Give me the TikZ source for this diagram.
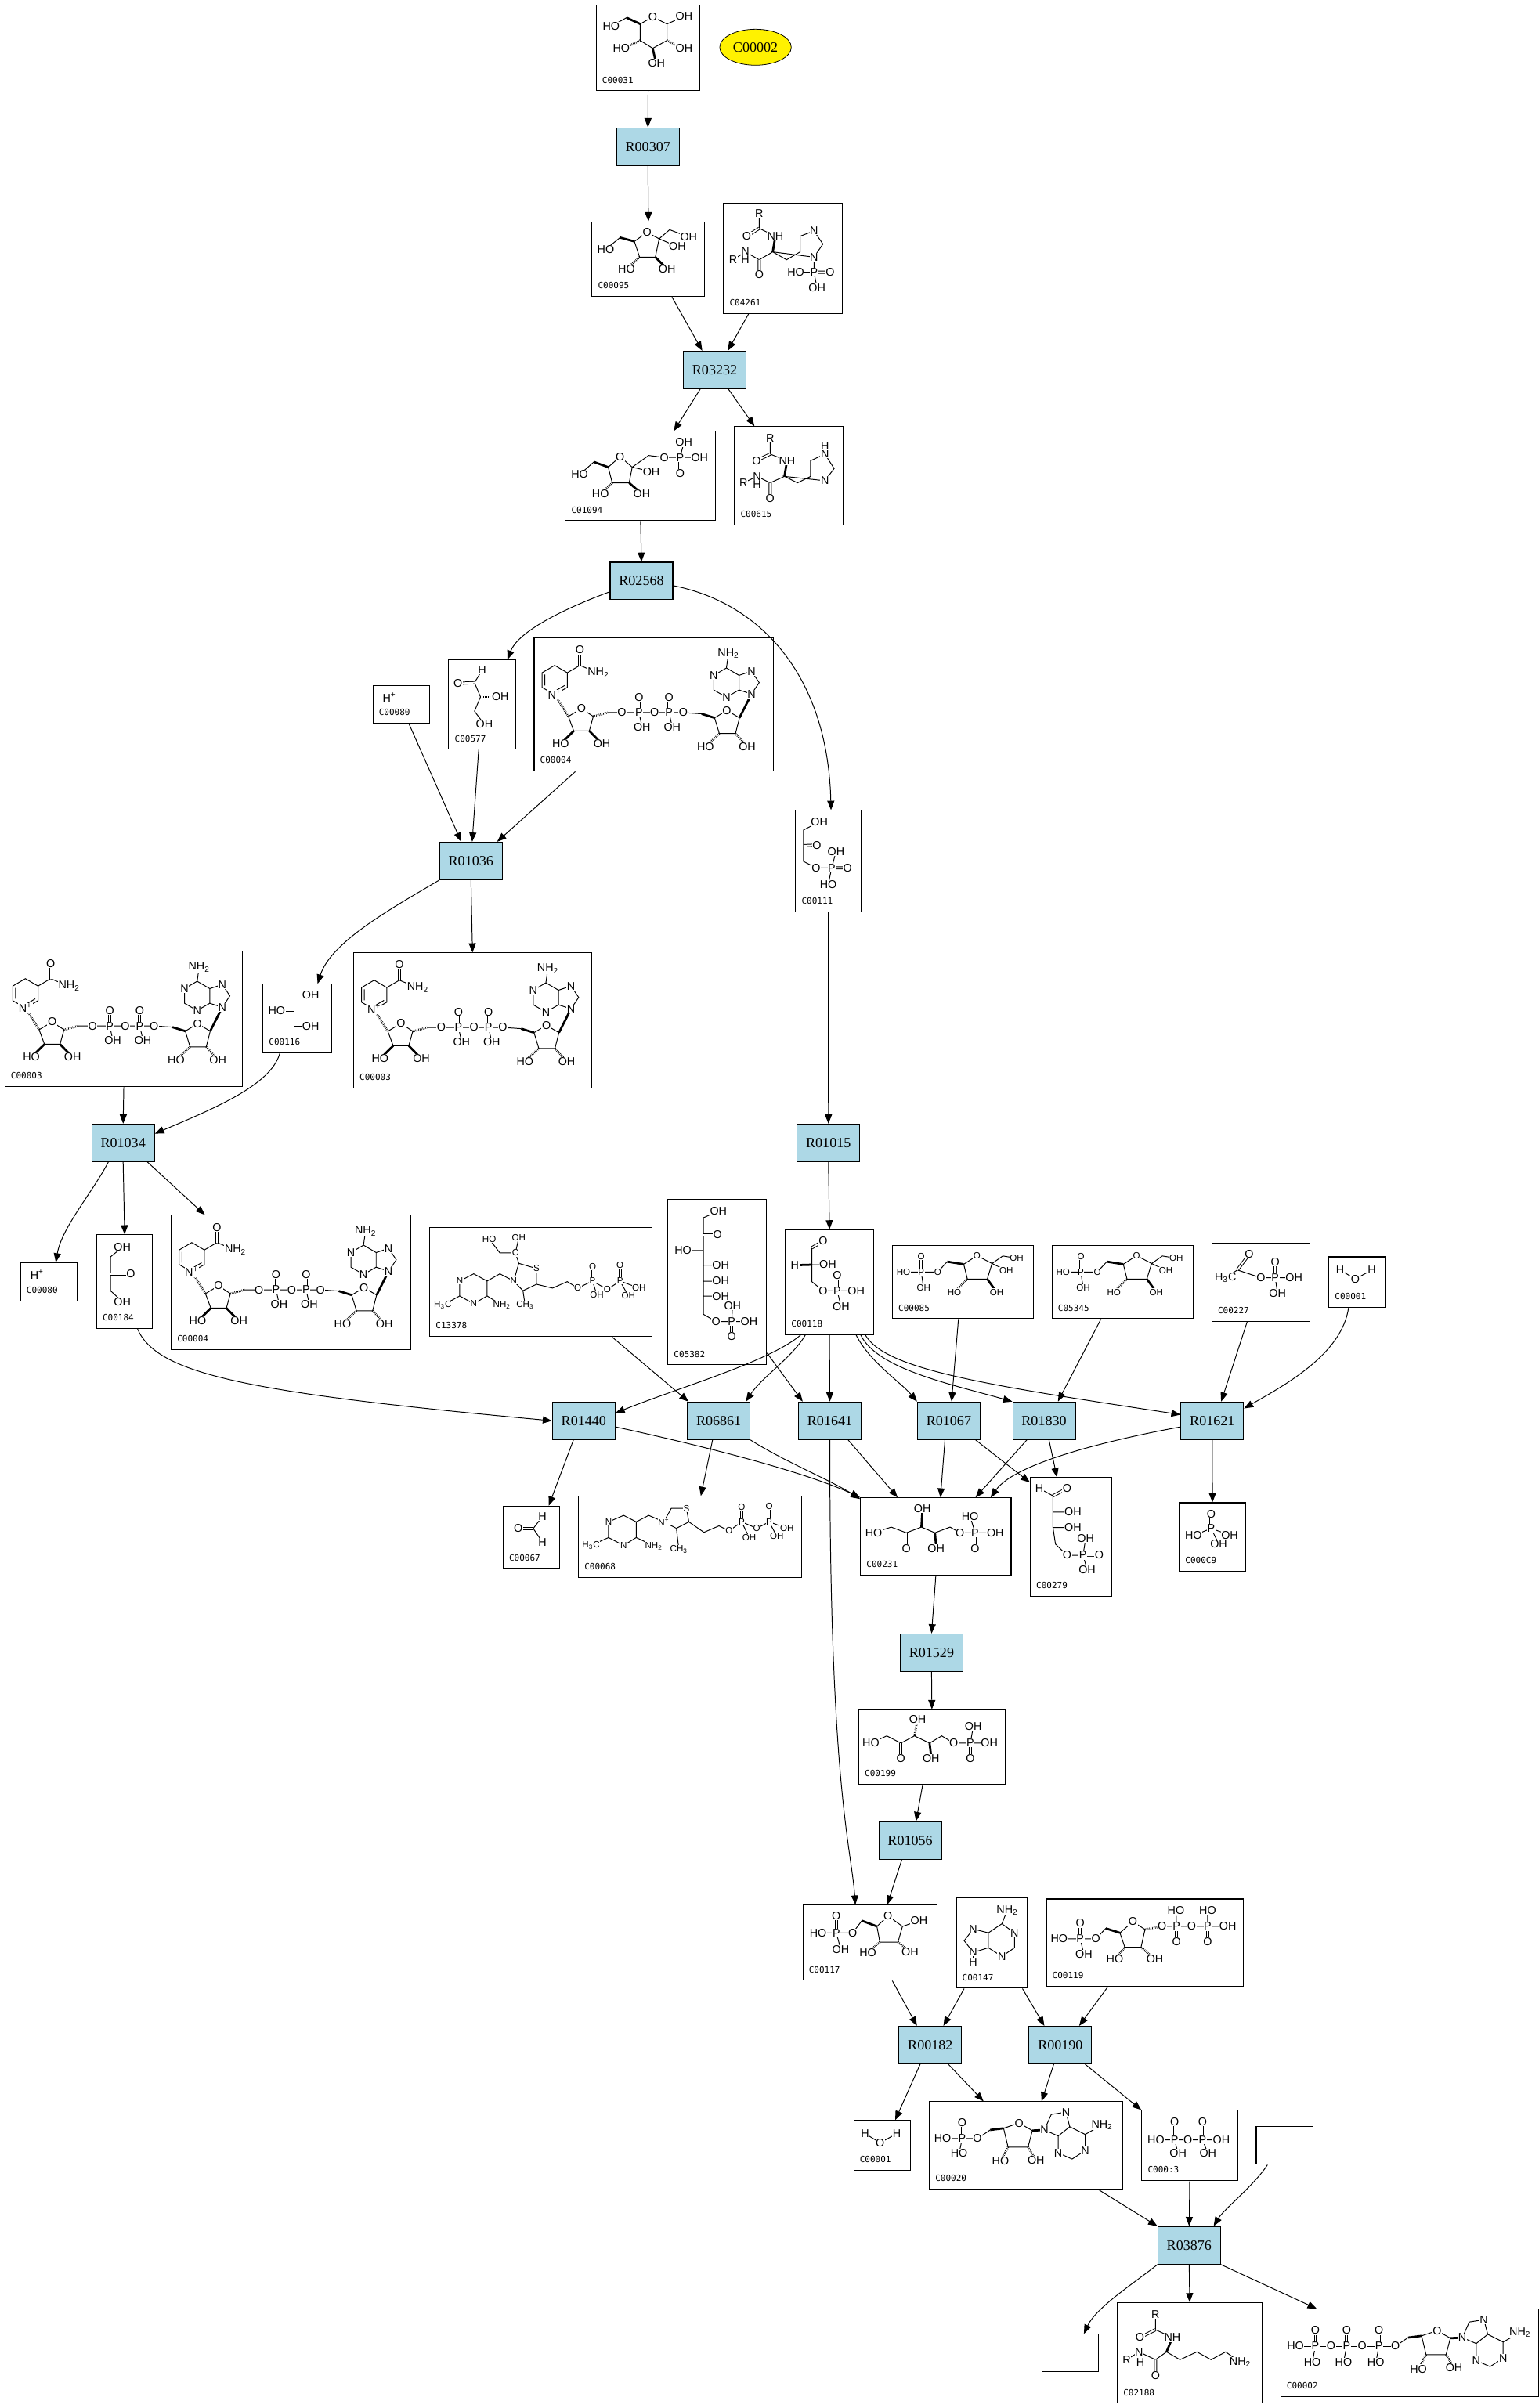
\documentclass[tikz,border=0pt]{standalone}
\usepackage{fontspec}
\usetikzlibrary{arrows.meta, shapes.geometric}
\newfontfamily\rxnfont{Liberation Serif}
\newfontfamily\atomfont{Liberation Sans}
\newfontfamily\idfont{DejaVu Sans Mono}
\definecolor{rxnblue}{HTML}{ADD8E6}

\tikzset{
  rxn/.style={draw, line width=0.55pt, fill=rxnblue, minimum width=40.7pt, minimum height=24.4pt,
    inner sep=0pt, font=\rxnfont\fontsize{9.2}{10}\selectfont},
  cpd/.style={draw, line width=0.55pt, inner sep=0pt, anchor=north west},
  cid/.style={font=\idfont\fontsize{5.6}{6}\selectfont, inner sep=0pt, anchor=base west},
  atom/.style={font=\atomfont\fontsize{7.3}{8}\selectfont, inner sep=0.3pt, fill=white},
  satom/.style={atom, font=\atomfont\fontsize{5.9}{6}\selectfont},
  bond/.style={line width=0.5pt},
  dbl/.style={bond, double, double distance=1pt},
  wedge/.style={line width=1.4pt},
  hash/.style={line width=1.4pt, dash pattern=on 0.35pt off 0.6pt},
  flow/.style={line width=0.5pt, -{Triangle[length=6pt, width=4.6pt]}},
  % NAD+ / NADH
  nad/.pic={
    \draw[bond] (13.6,18) -- (21.8,22.8) -- (21.8,32.3) -- (13.6,37) -- (5.4,32.3) -- (5.4,22.8) -- cycle
      (7.2,24) -- (7.2,31.1) (20,31.1) -- (15,34)
      (21.8,22.8) -- (30,18) -- (41.5,22.8)
      (22.5,51.2) -- (31,46.1) -- (38.7,51.2) -- (36.1,60.6) -- (26,60.6) -- cycle
      (48,48.7) -- (97.2,48.7) -- (109.1,49.5)
      (68.4,48.7) -- (70.4,58) (87.9,48.7) -- (90,58)
      (117.5,52.1) -- (125.5,47.3) -- (133.7,52.1) -- (131.1,62.3) -- (120.6,62.3) -- cycle
      (125.2,19.7) -- (117,24.5) -- (117,34) -- (125.2,38.7) -- (133.4,34) -- (133.4,24.5) -- cycle
      (133.4,24.5) -- (141.5,21.8) -- (146.5,29.2) -- (141.5,36.6) -- (133.4,34)
      (125.2,19.7) -- (126.5,10.5);
    \draw[dbl] (30,18) -- (30,8) (68.4,48.7) -- (68.4,38.8) (87.9,48.7) -- (87.9,38.8);
    \draw[hash] (13.6,37) -- (22.5,51.2) (38.7,51.2) -- (48,48.7) (120.6,62.3) -- (111.6,70.7) (131.1,62.3) -- (138.7,70.7);
    \draw[wedge] (26,60.6) -- (17.5,69) (36.1,60.6) -- (44.3,69) (109.1,49.5) -- (117.5,52.1) (133.7,52.1) -- (141.5,36.6);
    \foreach \x/\y/\t in {13.6/37/N\textsuperscript{+}, 30/8/O, 42/22.8/NH\textsubscript{2}, 31/46.1/O,
        17.5/69/HO, 44.3/69/OH, 57.3/48.7/O, 68.4/48.7/P, 68.4/38.8/O, 70.4/58/OH, 78.5/48.7/O,
        87.9/48.7/P, 87.9/38.8/O, 90/58/OH, 97.2/48.7/O, 125.5/47.3/O, 111.6/70.7/HO, 138.7/70.7/OH,
        117/24.5/N, 125.2/38.7/N, 141.5/21.8/N, 141.5/36.6/N, 126.5/10.5/NH\textsubscript{2}}
      \node[atom] at (\x,\y) {\t};
  },
  % fructose 6-phosphate
  hexp/.pic={
    \draw[bond] (7.4,17.4) -- (29.7,17.4) -- (35.9,10.7) (19,17.4) -- (20.5,27.6)
      (46.6,12.4) -- (55.2,6.8) -- (65,11.9) -- (61.9,22) -- (49,22) -- cycle
      (65,11.9) -- (72,7) -- (81,8.5) (65,11.9) -- (74.2,16.4);
    \draw[dbl] (19,17.4) -- (19,7.3);
    \draw[wedge] (35.9,10.7) -- (46.6,12.4) (61.9,22) -- (68,30.5);
    \draw[hash] (49,22) -- (40.5,30.5);
    \foreach \x/\y/\t in {7.4/17.4/HO, 19/17.4/P, 19/7.3/O, 20.5/27.6/OH, 29.7/17.4/O, 55.2/6.8/O,
        81/8.5/OH, 74.2/16.4/OH, 40.5/30.5/HO, 68/30.5/OH}
      \node[satom] at (\x,\y) {\t};
  },
  % adenosine from the 5'-O
  adenosine/.pic={
    \draw[bond] (0,0) -- (8.3,-5.6)
      (17,-6.7) -- (27.1,-10.1) -- (35.7,-5.2) -- (32.9,5.5) -- (19.9,5.5) -- cycle
      (43.5,-5.6) -- (48,-15.7) -- (57.5,-17.2) -- (60,-7.7) -- (52.5,-1.7) -- cycle
      (52.5,-1.7) -- (52.5,9.3) -- (61.5,13.3) -- (70,7.8) -- (70,-2.7) -- (60,-7.7)
      (70,-2.7) -- (81,-8.9);
    \draw[wedge] (8.3,-5.6) -- (17,-6.7) (35.7,-5.2) -- (43.5,-5.6);
    \draw[hash] (19.9,5.5) -- (15,14.8) (32.9,5.5) -- (38.1,14);
    \foreach \x/\y/\t in {0/0/O, 27.1/-10.1/O, 15/14.8/HO, 38.1/14/OH, 43.5/-5.6/N, 57.5/-17.2/N,
        52.5/9.3/N, 70/7.8/N, 81/-8.9/NH\textsubscript{2}}
      \node[atom] at (\x,\y) {\t};
  }
}

\newcommand{\cpdbox}[6]{%
  \node[cpd, minimum width=#4pt, minimum height=#5pt] (#1) at (#2,#3) {};
  \node[cid] at ([xshift=4pt,yshift=5.3pt]#1.south west) {#6};}

\begin{document}
\begin{tikzpicture}[x=1pt, y=-1pt]
  \useasboundingbox (0,0) rectangle (1000,1564.9);
  \fill[white] (0,0) rectangle (1000,1564.9);

  % Compounds
  \cpdbox{c00031}{387.1}{3.1}{67.5}{55.6}{C00031}
  \node[draw, ellipse, fill=yellow, minimum width=46.5pt, minimum height=23.4pt, inner sep=0pt,
    font=\rxnfont\fontsize{9.2}{10}\selectfont] (c00002) at (490.9,30.7) {C00002};
  \cpdbox{c00095}{384.4}{143.9}{73.3}{48.6}{C00095}
  \cpdbox{c04261}{469.9}{132}{77.3}{71.6}{C04261}
  \cpdbox{c01094}{367.1}{280.1}{97.7}{58}{C01094}
  \cpdbox{c00615}{477}{277}{70.7}{64}{C00615}
  \cpdbox{c00080a}{242}{445.4}{36.8}{24.3}{C00080}
  \cpdbox{c00577}{291.3}{428.7}{43.5}{58}{C00577}
  \cpdbox{c00004a}{346.8}{414.4}{155.5}{86.5}{C00004}
  \cpdbox{c00111}{516.7}{526.4}{42.4}{66}{C00111}
  \cpdbox{c00003a}{2.9}{618}{154.5}{88}{C00003}
  \cpdbox{c00116}{170.6}{639.3}{44.8}{44.8}{C00116}
  \cpdbox{c00003b}{229.5}{619}{154.5}{88}{C00003}
  \cpdbox{c00080b}{13.1}{820.4}{36.8}{24.7}{C00080}
  \cpdbox{c00184}{62.5}{802.2}{36.4}{60.9}{C00184}
  \cpdbox{c00004b}{111}{789.5}{155.7}{87.2}{C00004}
  \cpdbox{c13378}{279}{797.5}{144.4}{70.8}{C13378}
  \cpdbox{c05382}{433.7}{779.1}{64.1}{107.6}{C05382}
  \cpdbox{c00118}{510}{799}{57.4}{68}{C00118}
  \cpdbox{c00085}{579.6}{809.2}{91.4}{47.5}{C00085}
  \cpdbox{c05345}{683.3}{809.2}{91.6}{47.5}{C05345}
  \cpdbox{c00227}{787.2}{807.6}{63.8}{50.8}{C00227}
  \cpdbox{c00001a}{863.2}{816.5}{36.8}{32.7}{C00001}
  \cpdbox{c00067}{326.6}{978.5}{36.6}{40.5}{C00067}
  \cpdbox{c00068}{375.6}{972.2}{144.8}{52.9}{C00068}
  \cpdbox{c00231}{558.9}{973.2}{97.8}{50.2}{C00231}
  \cpdbox{c00279}{669.2}{960}{53.1}{77.2}{C00279}
  \cpdbox{c00009}{766}{976.3}{43.1}{44.7}{C000C9}
  \cpdbox{c00199}{557.7}{1110.8}{95.1}{48.6}{C00199}
  \cpdbox{c00117}{521.4}{1237.8}{87.3}{48.9}{C00117}
  \cpdbox{c00147}{621.1}{1233.2}{46}{58.6}{C00147}
  \cpdbox{c00119}{679.6}{1233.8}{128.2}{56.9}{C00119}
  \cpdbox{c00001b}{554.5}{1377.8}{36.7}{32.4}{C00001}
  \cpdbox{c00020}{603.6}{1365.6}{125.6}{56.9}{C00020}
  \cpdbox{c00013}{741.6}{1371.2}{62.3}{45.7}{C000:3}
  \node[cpd, minimum width=37pt, minimum height=24.5pt] (cnone1) at (816,1381.8) {};
  \node[cpd, minimum width=37pt, minimum height=24.4pt] (cnone2) at (676.6,1516.7) {};
  \cpdbox{c02188}{725.7}{1496.2}{94.1}{65.3}{C02188}
  \cpdbox{c00002b}{831.9}{1500.4}{167.6}{56.9}{C00002}

  % Reactions
  \node[rxn] (r00307) at (421,95.3) {R00307};
  \node[rxn] (r03232) at (464.4,240.4) {R03232};
  \node[rxn] (r02568) at (416.8,377.6) {R02568};
  \node[rxn] (r01036) at (306,559.5) {R01036};
  \node[rxn] (r01034) at (80,742.7) {R01034};
  \node[rxn] (r01015) at (538.3,742.7) {R01015};
  \node[rxn] (r01440) at (379.3,923.3) {R01440};
  \node[rxn] (r06861) at (467,923.3) {R06861};
  \node[rxn] (r01641) at (539.2,923.3) {R01641};
  \node[rxn] (r01067) at (616.5,923.3) {R01067};
  \node[rxn] (r01830) at (678.4,923.3) {R01830};
  \node[rxn] (r01621) at (787.7,923.3) {R01621};
  \node[rxn] (r01529) at (605.3,1074) {R01529};
  \node[rxn] (r01056) at (591.4,1196) {R01056};
  \node[rxn] (r00182) at (604.5,1329) {R00182};
  \node[rxn] (r00190) at (689,1329) {R00190};
  \node[rxn] (r03876) at (772.7,1459.2) {R03876};

  % Structures
  \begin{scope}[shift={(c00031.north west)}]
    \draw[bond] (28.9,12.5) -- (37,7.9) -- (46.3,12.5) -- (46.3,23.2) -- (37,28.3) -- (28.9,23.2) -- cycle
      (20,8.4) -- (10,14) (46.3,12.5) -- (57.4,7.6);
    \draw[wedge] (28.9,12.5) -- (20,8.4) (37,28.3) -- (38.5,35);
    \draw[hash] (46.3,23.2) -- (55,27.5) (28.9,23.2) -- (20,27.5);
    \foreach \x/\y/\t in {37/7.9/O, 10/14/HO, 57.4/7.6/OH, 57.4/28/OH, 16.6/28/HO, 39.5/38/OH}
      \node[atom] at (\x,\y) {\t};
  \end{scope}
  \begin{scope}[shift={(c00095.north west)}]
    \draw[bond] (27.8,13) -- (36,7.1) -- (43.9,11.3) -- (41.4,23.2) -- (31.2,23.2) -- cycle
      (18.5,10.5) -- (9.2,18.1) (43.9,11.3) -- (50.7,5.4) -- (63.1,10.1) (43.9,11.3) -- (55.8,16.4);
    \draw[wedge] (27.8,13) -- (18.5,10.5) (41.4,23.2) -- (49,30.8);
    \draw[hash] (31.2,23.2) -- (22.7,30.8);
    \foreach \x/\y/\t in {36/7.1/O, 9.2/18.1/HO, 63.1/10.1/OH, 55.8/16.4/OH, 22.7/30.8/HO, 49/30.8/OH}
      \node[atom] at (\x,\y) {\t};
  \end{scope}
  \begin{scope}[shift={(c04261.north west)}]
    \draw[bond] (23.4,6.8) -- (23.4,16.4) -- (33.9,21.5) (32.2,31.7) -- (23.4,36.8) -- (14.4,31.7) -- (6.5,36.8)
      (32.2,31.7) -- (41.2,36.8) -- (50,31.7) -- (50,21.5) -- (59,18.1) -- (64.8,26.6) -- (59,35.1) -- cycle
      (59,35.1) -- (59,44.9) -- (47.2,44.9) (59,44.9) -- (61,55.1);
    \draw[dbl] (23.4,16.4) -- (15.3,21.5) (23.4,36.8) -- (23.4,46.5) (59,44.9) -- (69.5,44.9);
    \draw[wedge] (33.9,21.5) -- (32.2,31.7);
    \foreach \x/\y/\t in {23.4/6.8/R, 15.3/21.5/O, 33.9/21.5/NH, 23.4/46.5/O, 14.4/31.2/N, 14.4/36.8/H,
        6.5/36.8/R, 59/18.1/N, 59/35.1/N, 59/44.9/P, 47.2/44.9/HO, 69.5/44.9/O, 61/55.1/OH}
      \node[atom] at (\x,\y) {\t};
  \end{scope}
  \begin{scope}[shift={(c01094.north west)}]
    \draw[bond] (28.1,23.5) -- (35.8,16.7) -- (43.7,23.5) -- (41.7,33.7) -- (30.7,33.7) -- cycle
      (18.8,20.1) -- (9.5,28.3) (43.7,23.5) -- (54.4,15.9) -- (64.6,17.2) -- (87.5,17.2)
      (74.8,17.2) -- (77.3,7.4) (43.7,23.5) -- (56.1,26.4);
    \draw[dbl] (74.8,17.2) -- (74.8,27.4);
    \draw[wedge] (28.1,23.5) -- (18.8,20.1) (41.7,33.7) -- (49.9,40.8);
    \draw[hash] (30.7,33.7) -- (23.1,40.8);
    \foreach \x/\y/\t in {35.8/16.7/O, 9.5/28.3/HO, 64.6/17.2/O, 74.8/17.2/P, 77.3/7.4/OH, 87.5/17.2/OH,
        74.8/27.4/O, 56.1/26.4/OH, 23.1/40.8/HO, 49.9/40.8/OH}
      \node[atom] at (\x,\y) {\t};
  \end{scope}
  \begin{scope}[shift={(c00615.north west)}]
    \draw[bond] (23.4,7.6) -- (23.4,18.1) -- (34.4,22.4) (32.7,32.6) -- (23.4,36.8) -- (14.9,32.6) -- (6.1,36.8)
      (32.7,32.6) -- (41.2,36.8) -- (49.7,32.6) -- (49.7,22.4) -- (59,18.1) -- (65,27.5) -- (59,35.4) -- cycle;
    \draw[dbl] (23.4,18.1) -- (14.6,22.4) (23.4,36.8) -- (23.4,47);
    \draw[wedge] (34.4,22.4) -- (32.7,32.6);
    \foreach \x/\y/\t in {23.4/7.6/R, 14.6/22.4/O, 34.4/22.4/NH, 23.4/47/O, 14.9/32.6/N, 14.9/37.6/H,
        6.1/36.8/R, 59/18.1/N, 59/13/H, 59/35.4/N}
      \node[atom] at (\x,\y) {\t};
  \end{scope}
  \node[atom] at ([xshift=11pt,yshift=-8pt]c00080a.north west) {H\textsuperscript{+}};
  \node[atom] at ([xshift=11pt,yshift=-8pt]c00080b.north west) {H\textsuperscript{+}};
  \begin{scope}[shift={(c00577.north west)}]
    \draw[bond] (21.9,6.9) -- (17,14.9) -- (20.9,24.2) -- (17,33.5) -- (23.4,42);
    \draw[dbl] (17,14.9) -- (6.2,15.4);
    \draw[hash] (20.9,24.2) -- (33.8,24.2);
    \foreach \x/\y/\t in {21.9/6.9/H, 6.2/15.4/O, 33.8/24.2/OH, 23.4/42/OH}
      \node[atom] at (\x,\y) {\t};
  \end{scope}
  \pic at (c00004a.north west) {nad};
  \pic at (c00003a.north west) {nad};
  \pic at (c00003b.north west) {nad};
  \pic at (c00004b.north west) {nad};
  \begin{scope}[shift={(c00111.north west)}]
    \draw[bond] (15.7,7.6) -- (5.4,13) -- (5.4,33.4) -- (13.6,37.6) -- (23.7,37.6) -- (26.5,27.1)
      (23.7,37.6) -- (21.5,48.3);
    \draw[dbl] (5.4,23.2) -- (14,22.8) (23.7,37.6) -- (34,37.6);
    \foreach \x/\y/\t in {15.7/7.6/OH, 14/22.8/O, 13.6/37.6/O, 23.7/37.6/P, 26.5/27.1/OH, 34/37.6/O, 21.5/48.3/HO}
      \node[atom] at (\x,\y) {\t};
  \end{scope}
  \begin{scope}[shift={(c00116.north west)}]
    \draw[bond] (20.5,7.5) -- (31.3,7.5) (9.2,17.7) -- (21,17.7) (20.5,27.4) -- (31.3,27.4);
    \foreach \x/\y/\t in {31.3/7.5/OH, 9.2/17.7/HO, 31.3/27.4/OH}
      \node[atom] at (\x,\y) {\t};
  \end{scope}
  \begin{scope}[shift={(c00184.north west)}]
    \draw[bond] (17,8.3) -- (9.3,14.6) -- (9.3,36.6) -- (17,43.7);
    \draw[dbl] (9.3,25.6) -- (22.5,25.6);
    \foreach \x/\y/\t in {17/8.3/OH, 22.5/25.6/O, 17/43.7/OH}
      \node[atom] at (\x,\y) {\t};
  \end{scope}
  \begin{scope}[shift={(c13378.north west)}]
    \draw[bond] (38.9,7.7) -- (45.8,16.7) -- (55.9,16.7) -- (58.1,6.9) (55.9,16.7) -- (58.1,23.5)
      (58.1,23.5) -- (69.6,26.9) -- (69.6,37.1) -- (60.8,41.3) -- (54.8,35) -- cycle
      (54.8,35) -- (45.8,30.3) -- (37.5,35)
      (37.5,35) -- (37.5,44.7) -- (28.8,49.8) -- (19.7,44.7) -- (19.7,35) -- (28.8,30.3) -- cycle
      (19.7,44.7) -- (8.7,50.7) (37.5,44.7) -- (47.1,50.7) (60.8,41.3) -- (62.2,50.7)
      (69.6,37.1) -- (80,39.6) -- (89.6,35.4) -- (96.4,39.6) -- (106,35) -- (115.6,40.5) -- (123.9,35) -- (136.2,39.6)
      (106,35) -- (108.8,43.9) (123.9,35) -- (129.3,44.7);
    \draw[dbl] (106,35) -- (106,25.5) (123.9,35) -- (123.9,24.4);
    \foreach \x/\y/\t in {38.9/7.7/HO, 58.1/6.9/OH, 55.9/16.7/C, 69.6/26.9/S, 54.8/35/N, 19.7/35/N, 28.8/49.8/N,
        8.7/50.7/H\textsubscript{3}C, 47.1/50.7/NH\textsubscript{2}, 62.2/50.7/CH\textsubscript{3}, 96.4/39.6/O, 106/35/P,
        106/25.5/O, 108.8/43.9/OH, 115.6/40.5/O, 123.9/35/P, 123.9/24.4/O, 136.2/39.6/OH, 129.3/44.7/OH}
      \node[satom] at (\x,\y) {\t};
  \end{scope}
  \begin{scope}[shift={(c05382.north west)}]
    \draw[bond] (33.1,8) -- (23.3,12.3) -- (23.3,75) -- (31.6,79.8) -- (53,79.8) (10.1,33.5) -- (23.3,33.5)
      (23.3,43.1) -- (34.6,43.1) (23.3,53.5) -- (34.6,53.5) (23.3,63.2) -- (34.6,63.2) (41.7,79.8) -- (42.3,69.6);
    \draw[dbl] (23.3,23.3) -- (32.5,23.3) (41.7,79.8) -- (41.7,89.5);
    \foreach \x/\y/\t in {33.1/8/OH, 32.5/23.3/O, 10.1/33.5/HO, 34.6/43.1/OH, 34.6/53.5/OH, 34.6/63.2/OH,
        31.6/79.8/O, 41.7/79.8/P, 42.3/69.6/OH, 53/79.8/OH, 41.7/89.5/O}
      \node[atom] at (\x,\y) {\t};
  \end{scope}
  \begin{scope}[shift={(c00118.north west)}]
    \draw[bond] (17.5,11.9) -- (17.5,33.9) -- (24.8,39.9) -- (46.3,39.9) (17.5,22.9) -- (27.9,22.9)
      (34,39.9) -- (36.5,50);
    \draw[dbl] (24.8,7.6) -- (17.5,11.9) (34,39.9) -- (34,29.7);
    \draw[wedge] (17.5,22.9) -- (6.4,23.2);
    \foreach \x/\y/\t in {24.8/7.6/O, 6.4/23.2/H, 27.9/22.9/OH, 24.8/39.9/O, 34/39.9/P, 34/29.7/O,
        46.3/39.9/OH, 36.5/50/OH}
      \node[atom] at (\x,\y) {\t};
  \end{scope}
  \pic at (c00085.north west) {hexp};
  \pic at (c05345.north west) {hexp};
  \begin{scope}[shift={(c00227.north west)}]
    \draw[bond] (9.1,22.8) -- (16.8,17.7) -- (32.1,22.8) -- (53.6,22.8) (41.4,22.8) -- (42.9,33);
    \draw[dbl] (16.8,17.7) -- (24.5,7.5) (41.4,22.8) -- (41.4,12.3);
    \foreach \x/\y/\t in {9.1/22.8/H\textsubscript{3}C, 24.5/7.5/O, 32.1/22.8/O, 41.4/22.8/P, 41.4/12.3/O,
        53.6/22.8/OH, 42.9/33/OH}
      \node[atom] at (\x,\y) {\t};
  \end{scope}
  \foreach \w in {c00001a, c00001b}
    \draw[bond, shift={(\w.north west)}] (7.6,8.8) -- (17.4,14.7) -- (28.2,8.8)
      node[atom] at (7.6,8.8) {H} node[atom] at (17.4,14.7) {O} node[atom] at (28.2,8.8) {H};
  \begin{scope}[shift={(c00067.north west)}]
    \draw[bond] (25.8,7.1) -- (19.9,14.8) -- (25.8,23.6);
    \draw[dbl] (10.1,14.8) -- (19.9,14.8);
    \foreach \x/\y/\t in {10.1/14.8/O, 25.8/7.1/H, 25.8/23.6/H}
      \node[atom] at (\x,\y) {\t};
  \end{scope}
  \begin{scope}[shift={(c00068.north west)}]
    \draw[bond] (19.8,16.8) -- (29.6,12.6) -- (37.8,16.8) -- (37.8,27) -- (29.6,32.1) -- (19.8,27) -- cycle
      (19.8,27) -- (8.4,32.1) (37.8,27) -- (49.2,32.4) (37.8,16.8) -- (45.9,12.6) -- (55.7,16.8)
      (55.7,16.8) -- (60.6,8) -- (70.4,8) -- (72,16.8) -- (63.9,21) -- cycle (63.9,21) -- (65.5,34.6)
      (72,16.8) -- (81.8,23.6) -- (91.6,19.4) -- (98.1,22.7) -- (106.3,16.8) -- (116.1,21) -- (124.2,16.8) -- (135.7,21)
      (106.3,16.8) -- (111.2,27) (124.2,16.8) -- (129.1,26.1);
    \draw[dbl] (106.3,16.8) -- (106.3,7.1) (124.2,16.8) -- (124.2,6.6);
    \foreach \x/\y/\t in {19.8/16.8/N, 29.6/32.1/N, 8.4/32.1/H\textsubscript{3}C, 49.2/32.4/NH\textsubscript{2},
        55.7/16.8/N\textsuperscript{+}, 70.4/8/S, 65.5/34.6/CH\textsubscript{3}, 98.1/22.7/O, 106.3/16.8/P,
        106.3/7.1/O, 111.2/27/OH, 116.1/21/O, 124.2/16.8/P, 124.2/6.6/O, 135.7/21/OH, 129.1/26.1/OH}
      \node[satom] at (\x,\y) {\t};
  \end{scope}
  \begin{scope}[shift={(c00231.north west)}]
    \draw[bond] (8.8,22.9) -- (20.2,19.2) -- (30,22.9) -- (39.8,19.2) -- (48.6,22.9) -- (58.4,19.2) -- (64.9,22.9)
      -- (87.8,22.9) (74.7,22.9) -- (71.4,12.1);
    \draw[dbl] (30,22.9) -- (30,33.1) (74.7,22.9) -- (74.7,33.1);
    \draw[wedge] (39.8,19.2) -- (40.4,9.5) (48.6,22.9) -- (49.3,31);
    \foreach \x/\y/\t in {8.8/22.9/HO, 30/33.1/O, 40.4/7.3/OH, 49.3/33.1/OH, 64.9/22.9/O, 74.7/22.9/P,
        71.4/12.1/HO, 87.8/22.9/OH, 74.7/33.1/O}
      \node[atom] at (\x,\y) {\t};
  \end{scope}
  \begin{scope}[shift={(c00279.north west)}]
    \draw[bond] (6.2,7.3) -- (15,12.1) -- (15,32.7) -- (16.6,43.4) -- (24.1,50.7) -- (34.5,50.7)
      (15,22.6) -- (28,22.6) (15,32.7) -- (28,32.7) (34.5,50.7) -- (36.2,40) (34.5,50.7) -- (37.2,60);
    \draw[dbl] (15,12.1) -- (24.1,7.3) (34.5,50.7) -- (45,50.7);
    \foreach \x/\y/\t in {6.2/7.3/H, 24.1/7.3/O, 28/22.6/OH, 28/32.7/OH, 24.1/50.7/O, 34.5/50.7/P,
        36.2/40/OH, 45/50.7/O, 37.2/60/OH}
      \node[atom] at (\x,\y) {\t};
  \end{scope}
  \begin{scope}[shift={(c00009.north west)}]
    \draw[bond] (9.5,21.5) -- (21,17) -- (33,21.2) (21,17) -- (25.9,27.1);
    \draw[dbl] (21,7.6) -- (21,17);
    \foreach \x/\y/\t in {21/7.6/O, 21/17/P, 9.5/21.5/HO, 33/21.2/OH, 25.9/27.1/OH}
      \node[atom] at (\x,\y) {\t};
  \end{scope}
  \begin{scope}[shift={(c00199.north west)}]
    \draw[bond] (8.2,22) -- (18.5,17.3) -- (27.7,22) -- (36.5,17.3) -- (46.3,22) -- (54.2,17.3) -- (62,22)
      -- (85.1,22) (72.8,22) -- (74.7,11.3);
    \draw[dbl] (27.7,22) -- (27.7,32.2) (72.8,22) -- (72.8,32.2);
    \draw[hash] (36.5,17.3) -- (38.5,6.6);
    \draw[wedge] (46.3,22) -- (47.3,30);
    \foreach \x/\y/\t in {8.2/22/HO, 27.7/32.2/O, 38.5/6.6/OH, 47.3/32.2/OH, 62/22/O, 72.8/22/P,
        74.7/11.3/OH, 85.1/22/OH, 72.8/32.2/O}
      \node[atom] at (\x,\y) {\t};
  \end{scope}
  \begin{scope}[shift={(c00117.north west)}]
    \draw[bond] (10.2,18.3) -- (32.7,18.3) -- (38.6,10.4) (22,18.3) -- (24.9,29)
      (48.4,14.1) -- (55.6,7.3) -- (65,14.1) -- (62.1,24.3) -- (50.3,24.3) -- cycle (65,14.1) -- (75.8,10.4);
    \draw[dbl] (22,18.3) -- (22,7.3);
    \draw[wedge] (38.6,10.4) -- (48.4,14.1);
    \draw[hash] (50.3,24.3) -- (42.5,31) (62.1,24.3) -- (69.9,30.7);
    \foreach \x/\y/\t in {22/7.3/O, 10.2/18.3/HO, 22/18.3/P, 24.9/29/OH, 32.7/18.3/O, 55.6/7.3/O,
        75.8/10.4/OH, 42.5/31/HO, 69.9/30.7/OH}
      \node[atom] at (\x,\y) {\t};
  \end{scope}
  \begin{scope}[shift={(c00147.north west)}]
    \draw[bond] (33.4,8.2) -- (29.9,17)
      (29.9,17) -- (38.1,22.9) -- (38.1,32.6) -- (29.9,38.2) -- (21.1,32.6) -- (21.1,22.9) -- cycle
      (21.1,22.9) -- (11.3,20.4) -- (5.4,28) -- (11.3,35.6) -- (21.1,32.6) (11.3,35.6) -- (11.3,41.6);
    \foreach \x/\y/\t in {33.4/8.2/NH\textsubscript{2}, 38.1/22.9/N, 29.9/38.2/N, 11.3/20.4/N, 11.3/35.4/N, 11.3/42/H}
      \node[atom] at (\x,\y) {\t};
  \end{scope}
  \begin{scope}[shift={(c00119.north west)}]
    \draw[bond] (8.6,26.2) -- (32.5,26.2) -- (38.9,19.4) (22.3,26.2) -- (24.7,36.4)
      (48.1,22.3) -- (56.5,15) -- (64.4,20.1) -- (61.8,31.7) -- (51.3,31.7) -- cycle
      (75.5,18.1) -- (118.2,18.1) (84.9,18.1) -- (84.5,7.6) (105.1,18.1) -- (105.1,7.6);
    \draw[dbl] (22.3,26.2) -- (22.3,16) (84.9,18.1) -- (84.9,28.3) (105.1,18.1) -- (105.1,28.3);
    \draw[wedge] (38.9,19.4) -- (48.1,22.3);
    \draw[hash] (51.3,31.7) -- (44.8,39.3) (61.8,31.7) -- (70.8,39.3) (64.4,20.1) -- (75.5,18.1);
    \foreach \x/\y/\t in {8.6/26.2/HO, 22.3/26.2/P, 22.3/16/O, 24.7/36.4/OH, 32.5/26.2/O, 56.5/15/O,
        44.8/39.3/HO, 70.8/39.3/OH, 75.5/18.1/O, 84.9/18.1/P, 84.5/7.6/HO, 84.9/28.3/O, 94.7/18.1/O,
        105.1/18.1/P, 105.1/7.6/HO, 105.1/28.3/O, 118.2/18.1/OH}
      \node[atom] at (\x,\y) {\t};
  \end{scope}
  \begin{scope}[shift={(c00020.north west)}]
    \draw[bond] (8.9,24.2) -- (31.5,24.2) (21.6,24.2) -- (19.6,33.9);
    \draw[dbl] (21.6,24.2) -- (21.6,13.6);
    \pic at (31.5,24.2) {adenosine};
    \foreach \x/\y/\t in {8.9/24.2/HO, 21.6/24.2/P, 21.6/13.6/O, 19.6/33.9/HO}
      \node[atom] at (\x,\y) {\t};
  \end{scope}
  \begin{scope}[shift={(c00013.north west)}]
    \draw[bond] (9.5,19.5) -- (52,19.5) (21.6,19.5) -- (23.9,28.3) (39.8,19.5) -- (43.3,28.3);
    \draw[dbl] (21.6,19.5) -- (21.6,7.6) (39.8,19.5) -- (39.8,7.6);
    \foreach \x/\y/\t in {9.5/19.5/HO, 21.6/19.5/P, 21.6/7.6/O, 23.9/28.3/OH, 30.3/19.5/O, 39.8/19.5/P,
        39.8/7.6/O, 52/19.5/OH, 43.3/28.3/OH}
      \node[atom] at (\x,\y) {\t};
  \end{scope}
  \begin{scope}[shift={(c02188.north west)}]
    \draw[bond] (25.1,8.1) -- (25.1,17.8) -- (36.1,22.9) (32.3,32.2) -- (25.1,37.3) -- (14.4,32.2) -- (6.4,37.3)
      (32.3,32.2) -- (41,37.3) -- (52,32.2) -- (61.2,37.3) -- (70.7,32.2) -- (80.2,39);
    \draw[dbl] (25.1,17.8) -- (15,22.9) (25.1,37.3) -- (25.1,47.5);
    \draw[wedge] (36.1,22.9) -- (32.3,32.2);
    \foreach \x/\y/\t in {25.1/8.1/R, 15/22.9/O, 36.1/22.9/NH, 25.1/47.5/O, 14.4/32.2/N, 15.3/38.7/H,
        6.4/37.3/R, 80.2/39/NH\textsubscript{2}}
      \node[atom] at (\x,\y) {\t};
  \end{scope}
  \begin{scope}[shift={(c00002b.north west)}]
    \draw[bond] (9.9,24.3) -- (74.8,24.3);
    \foreach \p in {22.8, 43.1, 64.1} {
      \draw[bond] (\p,24.3) -- (\p-2,34.8);
      \draw[dbl] (\p,24.3) -- (\p,14.1);
    }
    \pic at (74.8,24.3) {adenosine};
    \foreach \x/\y/\t in {9.9/24.3/HO, 22.8/24.3/P, 22.8/14.1/O, 20.8/34.8/HO, 33/24.3/O, 43.1/24.3/P,
        43.1/14.1/O, 41.1/34.8/HO, 53.2/24.3/O, 64.1/24.3/P, 64.1/14.1/O, 62.1/34.8/HO}
      \node[atom] at (\x,\y) {\t};
  \end{scope}

  % Connectors
  \draw[flow] (c00031.south) -- (r00307.north);
  \draw[flow] (r00307.south) -- (c00095.north);
  \draw[flow] ([xshift=15.3pt]c00095.south) -- ([xshift=-8.1pt]r03232.north);
  \draw[flow] ([xshift=-22.5pt]c04261.south) -- ([xshift=8.5pt]r03232.north);
  \draw[flow] ([xshift=-9.4pt]r03232.south) -- ([xshift=21.6pt]c01094.north);
  \draw[flow] ([xshift=8.9pt]r03232.south) -- ([xshift=-22.4pt]c00615.north);
  \draw[flow] (c01094.south) -- (r02568.north);
  \draw[flow] ([yshift=-7pt]r02568.west) .. controls (360,398) and (336,412) .. ([xshift=16.4pt]c00577.north);
  \draw[flow] ([yshift=-3pt]r02568.east) .. controls (495,392) and (538,440) .. ([xshift=1.8pt]c00111.north);
  \draw[flow] ([xshift=5pt]c00080a.south) -- ([xshift=-6.3pt]r01036.north);
  \draw[flow] ([xshift=-2.3pt]c00577.south) -- ([xshift=0.8pt]r01036.north);
  \draw[flow] ([xshift=-51pt]c00004a.south) -- ([xshift=17pt]r01036.north);
  \draw[flow] (r01036.south west) .. controls (255,590) and (215,612) .. ([xshift=13.1pt]c00116.north);
  \draw[flow] (r01036.south) -- (c00003b.north);
  \draw[flow] (c00003a.south) -- (r01034.north);
  \draw[flow] ([xshift=-11.5pt]c00116.south) .. controls (176,705) and (140,720) .. ([yshift=6pt]r01034.east);
  \draw[flow] ([xshift=-9.6pt]r01034.south) .. controls (60,775) and (40,798) .. ([xshift=4.5pt]c00080b.north);
  \draw[flow] (r01034.south) -- (c00184.north);
  \draw[flow] ([xshift=15.8pt]r01034.south) -- ([xshift=-56pt]c00004b.north);
  \draw[flow] (c00111.south) -- (r01015.north);
  \draw[flow] (r01015.south) -- (c00118.north);
  \draw[flow] ([xshift=8.4pt]c00184.south) .. controls (102,893) and (160,905) .. (r01440.west);
  \draw[flow] ([xshift=-18.7pt]c00118.south) .. controls (500,885) and (440,902) .. ([yshift=5pt]r01440.east);
  \draw[flow] ([xshift=-15.7pt]c00118.south) .. controls (515,882) and (495,895) .. ([xshift=-3pt]r06861.north east);
  \draw[flow] (c00118.south) -- (r01641.north);
  \draw[flow] ([xshift=17.3pt]c00118.south) .. controls (565,885) and (585,898) .. (r01067.north west);
  \draw[flow] ([xshift=20.3pt]c00118.south) .. controls (570,890) and (620,900) .. (r01830.north west);
  \draw[flow] ([xshift=23.3pt]c00118.south) .. controls (575,890) and (640,900) .. ([yshift=4pt]r01621.west);
  \draw[flow] ([yshift=8pt]c05382.south east) -- ([xshift=3pt]r01641.north west);
  \draw[flow] ([xshift=46.2pt]c13378.south) -- ([xshift=1pt]r06861.north west);
  \draw[flow] ([xshift=-2.8pt]c00085.south) -- ([xshift=1.8pt]r01067.north);
  \draw[flow] ([xshift=-14pt]c05345.south) -- ([xshift=9pt]r01830.north);
  \draw[flow] ([xshift=-9pt]c00227.south) -- ([xshift=5.8pt]r01621.north);
  \draw[flow] ([xshift=-5.6pt]c00001a.south) .. controls (872,880) and (835,900) .. ([yshift=8pt]r01621.east);
  \draw[flow] ([xshift=-6.7pt]r01440.south) -- ([xshift=11.4pt]c00067.north);
  \draw[flow] ([yshift=-4pt]r01440.east) .. controls (445,937) and (520,955) .. (c00231.north west);
  \draw[flow] ([xshift=-4pt]r06861.south) -- ([xshift=7.1pt]c00068.north);
  \draw[flow] (r06861.south east) .. controls (510,950) and (540,962) .. ([yshift=-1pt]c00231.north west);
  \draw[flow] ([xshift=11.9pt]r01641.south) -- ([xshift=-24.8pt]c00231.north);
  \draw[flow] (r01641.south) .. controls (539,1160) and (553,1200) .. ([xshift=-9.5pt]c00117.north);
  \draw[flow] ([xshift=-2.5pt]r01067.south) -- ([xshift=3pt]c00231.north);
  \draw[flow] ([xshift=-3.2pt]r01067.south east) -- ([yshift=-3.4pt]c00279.north west);
  \draw[flow] ([xshift=-11.2pt]r01830.south) -- ([xshift=25.8pt]c00231.north);
  \draw[flow] ([xshift=3.2pt]r01830.south) -- ([xshift=-9.25pt]c00279.north);
  \draw[flow] ([yshift=-4pt]r01621.west) .. controls (725,935) and (660,950) .. ([xshift=35.6pt]c00231.north);
  \draw[flow] (r01621.south) -- (c00009.north);
  \draw[flow] (c00231.south) -- (r01529.north);
  \draw[flow] (r01529.south) -- (c00199.north);
  \draw[flow] ([xshift=-6pt]c00199.south) -- ([xshift=3.8pt]r01056.north);
  \draw[flow] ([xshift=-5.4pt]r01056.south) -- ([xshift=11.2pt]c00117.north);
  \draw[flow] ([xshift=14.5pt]c00117.south) -- ([xshift=-8.7pt]r00182.north);
  \draw[flow] ([xshift=-17.9pt]c00147.south) -- ([xshift=8.5pt]r00182.north);
  \draw[flow] ([xshift=20pt]c00147.south) -- ([xshift=-10.4pt]r00190.north);
  \draw[flow] ([xshift=-24.2pt]c00119.south) -- ([xshift=12.2pt]r00190.north);
  \draw[flow] ([xshift=-6.6pt]r00182.south) -- ([xshift=8.55pt]c00001b.north);
  \draw[flow] ([xshift=11.7pt]r00182.south) -- ([xshift=-27.6pt]c00020.north);
  \draw[flow] ([xshift=-4.3pt]r00190.south) -- ([xshift=10.1pt]c00020.north);
  \draw[flow] ([xshift=16.1pt]r00190.south) -- (c00013.north west);
  \draw[flow] ([xshift=47.2pt]c00020.south) -- (r03876.north west);
  \draw[flow] (c00013.south) -- (r03876.north);
  \draw[flow] ([xshift=-11.2pt]cnone1.south) .. controls (815,1420) and (795,1436) .. ([xshift=15.9pt]r03876.north);
  \draw[flow] (r03876.south west) .. controls (735,1485) and (712,1500) .. ([xshift=8.9pt]cnone2.north);
  \draw[flow] (r03876.south) -- (c02188.north);
  \draw[flow] (r03876.south east) -- ([xshift=23.7pt]c00002b.north west);

\end{tikzpicture}
\end{document}
